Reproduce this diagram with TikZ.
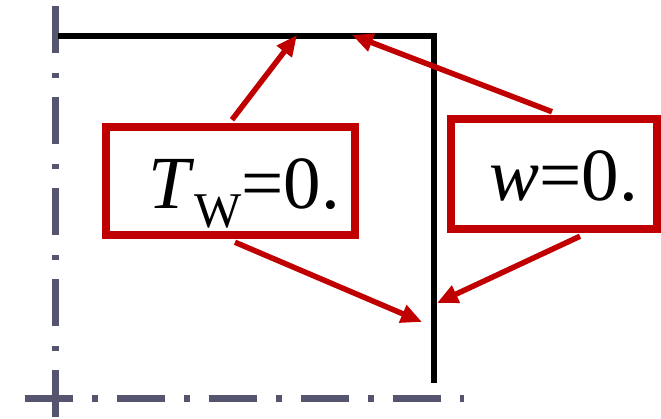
\documentclass[tikz,border=0pt]{standalone}
\usepackage{fontspec}
\setmainfont{Liberation Serif}
\usetikzlibrary{arrows.meta,calc}
\definecolor{boxred}{HTML}{C00000}
\definecolor{axisgray}{HTML}{555570}
\tikzset{
  axisline/.style={draw=axisgray, line width=7pt},
  wallline/.style={draw=black, line width=6pt, line join=miter},
  calloutbox/.style={draw=boxred, line width=7.5pt, rectangle, inner sep=0pt, fill=white},
  callarrow/.style={draw=boxred, line width=5.5pt, -{Triangle[length=21pt,width=18pt]}},
  bigtext/.style={inner sep=0pt, anchor=base west, font=\fontsize{75}{80}\selectfont},
}
\begin{document}
\begin{tikzpicture}[x=1pt,y=-1pt]
\useasboundingbox (0,0) rectangle (661,418);
% symmetry axes
\draw[axisline, dash pattern=on 47pt off 20pt on 5pt off 19pt] (55,6) -- (55,418);
\draw[axisline, dash pattern=on 48pt off 19pt on 6pt off 19pt] (25,398) -- (464,398);
% walls
\draw[wallline] (58,36) -- (433.5,36) -- (433.5,383);
% boxes
\node[calloutbox, minimum width=249pt, minimum height=108pt] (lbox) at (230.5,181) {};
\node[calloutbox, minimum width=206pt, minimum height=110pt] (rbox) at (554,174) {};
% texts
\node[bigtext] (ltext) at (148,208) {\textit{T}\raisebox{-19pt}{\fontsize{50}{50}\selectfont W}=0.};
\node[bigtext] (rtext) at (489,200) {\textit{w}=0.};
% targets
\coordinate (t1) at (297,35);
\coordinate (t2) at (352,35);
\coordinate (t3) at (422,322);
\coordinate (t4) at (437,303);
% arrows
\draw[callarrow] ($(lbox.north)+(1.5,-3.5)$) -- (t1);
\draw[callarrow] ($(rbox.north)+(-2,-3.5)$) -- (t2);
\draw[callarrow] ($(lbox.south)+(4.5,3.5)$) -- (t3);
\draw[callarrow] ($(rbox.south)+(26,3.5)$) -- (t4);
\end{tikzpicture}
\end{document}
